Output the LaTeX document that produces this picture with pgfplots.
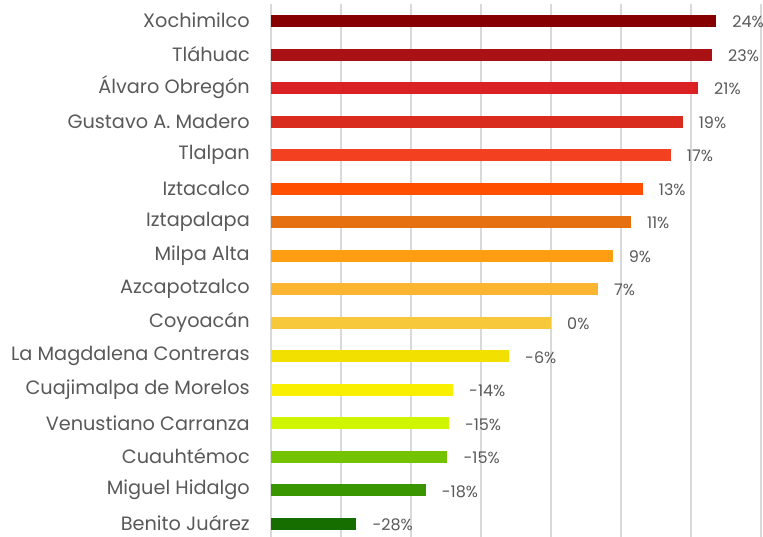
\documentclass[border=0pt]{standalone}
\usepackage{fontspec}
\setmainfont{Poppins}
\usepackage{pgfplots}
\pgfplotsset{compat=1.18}
\definecolor{txt}{HTML}{595959}
\definecolor{gridc}{HTML}{D9D9D9}
\definecolor{c15}{HTML}{860000}
\definecolor{c14}{HTML}{AA1115}
\definecolor{c13}{HTML}{DA2124}
\definecolor{c12}{HTML}{D92B1E}
\definecolor{c11}{HTML}{F24020}
\definecolor{c10}{HTML}{FF4E00}
\definecolor{c9}{HTML}{E6700F}
\definecolor{c8}{HTML}{FF9E10}
\definecolor{c7}{HTML}{FCB530}
\definecolor{c6}{HTML}{F7C93A}
\definecolor{c5}{HTML}{F2E100}
\definecolor{c4}{HTML}{F8F000}
\definecolor{c3}{HTML}{D0F500}
\definecolor{c2}{HTML}{73C300}
\definecolor{c1}{HTML}{3A9600}
\definecolor{c0}{HTML}{176E00}
\begin{document}
\begin{tikzpicture}[x=1pt,y=1pt]
\path[use as bounding box] (0,0) rectangle (763,537);
\begin{axis}[
  at={(271pt,-3.8pt)}, anchor=south west,
  scale only axis, width=490pt, height=536.5pt,
  xmin=0, xmax=70, ymin=-0.5, ymax=15.5,
  xbar, bar shift=0pt, bar width=12pt,
  x filter/.expression={x+40},
  point meta=rawx,
  /pgf/number format/assume math mode=true,
  xtick={0,10,...,70}, xticklabels={},
  xmajorgrids, major grid style={gridc, line width=1.5pt},
  ytick={0,...,15},
  yticklabels={Benito Juárez, Miguel Hidalgo, Cuauhtémoc, Venustiano Carranza, Cuajimalpa de Morelos, La Magdalena Contreras, Coyoacán, Azcapotzalco, Milpa Alta, Iztapalapa, Iztacalco, Tlalpan, Gustavo A. Madero, Álvaro Obregón, Tláhuac, Xochimilco},
  major tick length=0pt,
  axis line style={draw=none},
  yticklabel style={inner sep=0pt, anchor=east, xshift=-21pt, yshift=0.5pt, font=\fontsize{19.3}{22}\selectfont, text=txt},
  nodes near coords={\pgfmathprintnumber[fixed,precision=0]{\pgfplotspointmeta}\%},
  every node near coord/.append style={inner sep=0pt, anchor=west, xshift=16pt, yshift=-1pt, font=\fontsize{16}{19}\selectfont, text=txt},
  clip=false,
]
\addplot[fill=c15, draw=none] coordinates {(23.6,15)};
\addplot[fill=c14, draw=none] coordinates {(23.0,14)};
\addplot[fill=c13, draw=none] coordinates {(21.0,13)};
\addplot[fill=c12, draw=none] coordinates {(18.8,12)};
\addplot[fill=c11, draw=none] coordinates {(17.1,11)};
\addplot[fill=c10, draw=none] coordinates {(13.1,10)};
\addplot[fill=c9, draw=none] coordinates {(11.4,9)};
\addplot[fill=c8, draw=none] coordinates {(8.8,8)};
\addplot[fill=c7, draw=none] coordinates {(6.7,7)};
\addplot[fill=c6, draw=none] coordinates {(0.0,6)};
\addplot[fill=c5, draw=none] coordinates {(-6.0,5)};
\addplot[fill=c4, draw=none] coordinates {(-14.0,4)};
\addplot[fill=c3, draw=none] coordinates {(-14.6,3)};
\addplot[fill=c2, draw=none] coordinates {(-14.8,2)};
\addplot[fill=c1, draw=none] coordinates {(-17.9,1)};
\addplot[fill=c0, draw=none] coordinates {(-27.8,0)};
\end{axis}
\end{tikzpicture}
\end{document}
